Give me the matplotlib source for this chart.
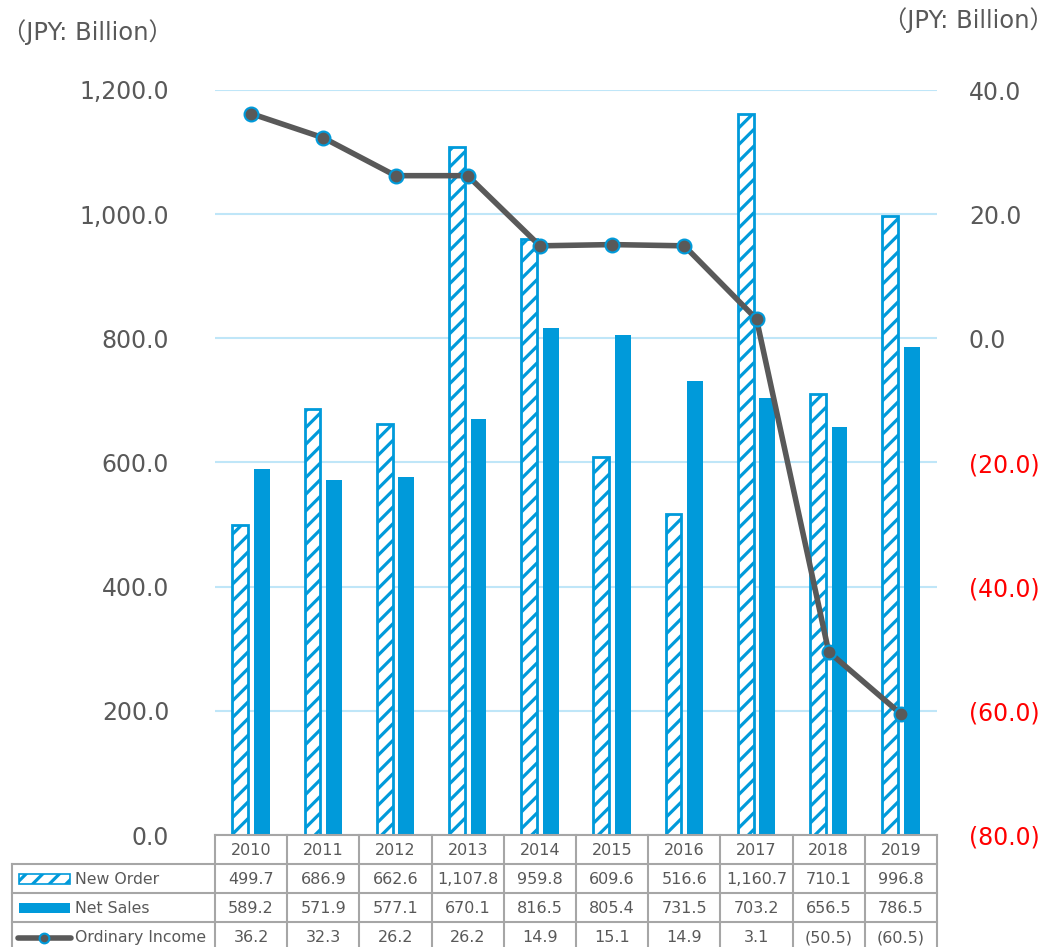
import matplotlib.pyplot as plt
import matplotlib.patches as mpatches
from matplotlib.lines import Line2D

plt.rcParams['font.family'] = ['DejaVu Sans', 'Noto Sans CJK JP']
plt.rcParams['hatch.linewidth'] = 2.3

years = ['2010', '2011', '2012', '2013', '2014', '2015', '2016', '2017', '2018', '2019']
new_order = [499.7, 686.9, 662.6, 1107.8, 959.8, 609.6, 516.6, 1160.7, 710.1, 996.8]
net_sales = [589.2, 571.9, 577.1, 670.1, 816.5, 805.4, 731.5, 703.2, 656.5, 786.5]
ordinary_income = [36.2, 32.3, 26.2, 26.2, 14.9, 15.1, 14.9, 3.1, -50.5, -60.5]
left_ticks = [0, 200, 400, 600, 800, 1000, 1200]
right_ticks = [-80, -60, -40, -20, 0, 20, 40]

BLUE = '#009ADA'
GRAY = '#595959'
GRID = '#BFE6F8'
TBL = '#A6A6A6'

W, H = 1056, 947
fig = plt.figure(figsize=(W / 100, H / 100), dpi=100)
ax_l, ax_r, ax_t, ax_b = 215, 937, 90, 835
ax = fig.add_axes([ax_l / W, 1 - ax_b / H, (ax_r - ax_l) / W, (ax_b - ax_t) / H])

x = list(range(len(years)))
bw = 0.22
ax.bar([i - 0.15 for i in x], new_order, bw, facecolor='white', edgecolor=BLUE,
       hatch='//', linewidth=2, zorder=3)
ax.bar([i + 0.15 for i in x], net_sales, bw, color=BLUE, zorder=3)

ax.set_xlim(-0.5, len(years) - 0.5)
ax.set_ylim(0, 1200)
ax.set_yticks(left_ticks)
ax.set_yticklabels([f'{v:,.1f}' for v in left_ticks], fontsize=17, color=GRAY)
ax.tick_params(axis='y', length=0, pad=33)
ax.set_xticks([])
ax.grid(axis='y', color=GRID, linewidth=1.5, zorder=0)
ax.set_axisbelow(True)
for s in ax.spines.values():
    s.set_visible(False)

ax2 = ax.twinx()
ax2.plot(x, ordinary_income, color=GRAY, linewidth=4, marker='o', markersize=10,
         markerfacecolor=GRAY, markeredgecolor=BLUE, markeredgewidth=1.5, zorder=5)
ax2.set_ylim(-80, 40)
ax2.set_yticks(right_ticks)
ax2.set_yticklabels([f'({abs(v):.1f})' if v < 0 else f'{v:.1f}' for v in right_ticks], fontsize=17)
for lab, v in zip(ax2.get_yticklabels(), right_ticks):
    lab.set_color('#FF0000' if v < 0 else GRAY)
ax2.tick_params(axis='y', length=0, pad=23)
for s in ax2.spines.values():
    s.set_visible(False)

fig.text(2 / W, 1 - 32 / H, '（JPY: Billion）', fontsize=17.5, color=GRAY, va='center', ha='left')
fig.text(1054 / W, 1 - 20 / H, '（JPY: Billion）', fontsize=17.5, color=GRAY, va='center', ha='right')

# data table under the plot, drawn in figure pixel coords
def fx(px):
    return px / W

def fy(py):
    return 1 - py / H

rows = [835, 864, 893, 922, 951]
cw = (ax_r - ax_l) / len(years)
tkw = dict(transform=fig.transFigure, color=TBL, linewidth=1.5, clip_on=False)
# horizontal lines
fig.add_artist(Line2D([fx(ax_l), fx(ax_r)], [fy(rows[0])] * 2, **tkw))
for r in rows[1:]:
    fig.add_artist(Line2D([fx(12), fx(ax_r)], [fy(r)] * 2, **tkw))
# vertical lines
for i in range(len(years) + 1):
    fig.add_artist(Line2D([fx(ax_l + i * cw)] * 2, [fy(rows[0]), fy(rows[-1])], **tkw))
fig.add_artist(Line2D([fx(12)] * 2, [fy(rows[1]), fy(rows[-1])], **tkw))

def fmt(v):
    return f'({abs(v):,.1f})' if v < 0 else f'{v:,.1f}'

table_rows = [years, [fmt(v) for v in new_order], [fmt(v) for v in net_sales],
              [fmt(v) for v in ordinary_income]]
for k, vals in enumerate(table_rows):
    cy = (rows[k] + rows[k + 1]) / 2 + 1
    for i, t in enumerate(vals):
        fig.text(fx(ax_l + (i + 0.5) * cw), fy(cy), t, fontsize=11.5, color=GRAY,
                 ha='center', va='center')

labels = ['New Order', 'Net Sales', 'Ordinary Income']
for k, lab in enumerate(labels):
    cy = (rows[k + 1] + rows[k + 2]) / 2 + 1
    fig.text(fx(75), fy(cy), lab, fontsize=11.3, color=GRAY, ha='left', va='center')

cy = (rows[1] + rows[2]) / 2
fig.add_artist(mpatches.Rectangle((fx(19), fy(cy + 5)), fx(51), 10 / H, transform=fig.transFigure,
                                  facecolor='white', edgecolor=BLUE, hatch='//', linewidth=1.2))
cy = (rows[2] + rows[3]) / 2
fig.add_artist(mpatches.Rectangle((fx(19), fy(cy + 5)), fx(51), 10 / H, transform=fig.transFigure,
                                  facecolor=BLUE, edgecolor=BLUE, linewidth=0))
cy = (rows[3] + rows[4]) / 2 + 1
fig.add_artist(Line2D([fx(18), fx(71)], [fy(cy)] * 2, transform=fig.transFigure, color=GRAY,
                      linewidth=4, solid_capstyle='round'))
fig.add_artist(Line2D([fx(44)], [fy(cy)], transform=fig.transFigure, marker='o', markersize=7,
                      markerfacecolor=GRAY, markeredgecolor=BLUE, markeredgewidth=1.5))

fig.savefig('out.png', dpi=100)
